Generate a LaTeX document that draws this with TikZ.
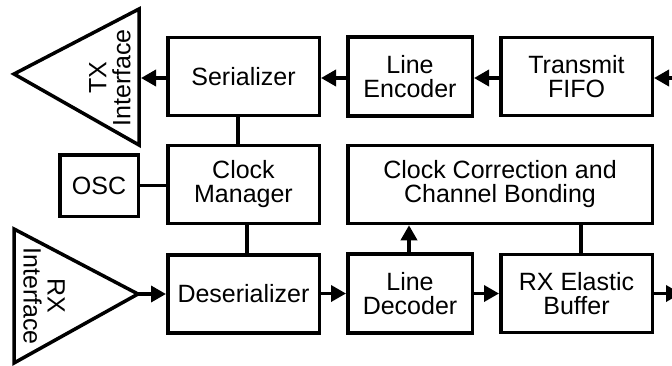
\documentclass[tikz,border=0pt]{standalone}
\usepackage{fontspec}
\setmainfont{Liberation Sans}
\usetikzlibrary{arrows.meta}
\begin{document}
\begin{tikzpicture}[x=1pt,y=-1pt,
  blk/.style={draw,line width=3.5pt,align=center,inner sep=0pt,
    font=\fontsize{25}{24}\selectfont},
  wide/.style={blk,minimum width=151.5pt,minimum height=78pt},
  narrow/.style={blk,minimum width=124.5pt,minimum height=79pt},
  wire/.style={line width=3.5pt},
  arr/.style={wire,-{Triangle[length=15pt,width=16pt]}},
  tri/.style={line width=3.5pt,line join=miter},
  lbl/.style={align=center,inner sep=0pt,font=\fontsize{25}{24}\selectfont}]
  \useasboundingbox (0,0) rectangle (672,365);

  % transmit path
  \node[wide]   (ser)  at (243.5,76.5) {Serializer};
  \node[narrow] (enc)  at (410,76.5)   {Line\\Encoder};
  \node[wide]   (fifo) at (576.5,76.5) {Transmit\\FIFO};

  % clocking
  \node[wide] (clk) at (243.5,184.5) {Clock\\Manager};
  \node[blk,minimum width=78.5pt,minimum height=61.5pt] (osc) at (99,185.5) {OSC};
  \node[blk,minimum width=304.5pt,minimum height=78pt] (cc) at (500,184.5)
    {Clock Correction and\\Channel Bonding};

  % receive path
  \node[wide]   (des) at (243.5,294)   {Deserializer};
  \node[narrow] (dec) at (410,293.5)   {Line\\Decoder};
  \node[wide]   (buf) at (576.5,293.5) {RX Elastic\\Buffer};

  % TX interface triangle (pointing left)
  \coordinate (txtip) at (14,74);
  \coordinate (txtop) at (139,9);
  \coordinate (txbot) at (139,145);
  \coordinate (txin)  at (141,78);
  \draw[tri] (txtip) -- (txtop) -- (txbot) -- cycle;
  \node[lbl,rotate=90] (txlbl) at (110,78) {TX\\Interface};

  % RX interface triangle (pointing right)
  \coordinate (rxtop) at (14,229);
  \coordinate (rxbot) at (14,363);
  \coordinate (rxtip) at (138,294);
  \draw[tri] (rxtop) -- (rxtip) -- (rxbot) -- cycle;
  \node[lbl,rotate=-90] (rxlbl) at (44,296) {RX\\Interface};

  % free ends at the right border
  \coordinate (fifoin) at (672,78);
  \coordinate (bufout) at (681,293.5);

  % transmit data flow
  \draw[arr] (fifoin) -- (fifoin -| fifo.east);
  \draw[arr] (fifo.west |- 0,78) -- (enc.east |- 0,78);
  \draw[arr] (enc.west |- 0,78) -- (ser.east |- 0,78);
  \draw[arr] (ser.west |- txin) -- (txin);

  % receive data flow
  \draw[arr] (rxtip) -- (des.west |- rxtip);
  \draw[arr] (des.east |- 0,293.5) -- (dec.west |- 0,293.5);
  \draw[arr] (dec.east) -- (buf.west);
  \draw[arr] (buf.east) -- (bufout);
  \draw[arr] (dec.north -| 409,0) -- (cc.south -| 409,0);

  % clock and control links
  \draw[wire] (ser.south -| 238,0) -- (clk.north -| 238,0);
  \draw[wire] (clk.south -| 247,0) -- (des.north -| 247,0);
  \draw[wire] (osc.east) -- (clk.west |- osc.east);
  \draw[wire] (buf.north -| 581,0) -- (cc.south -| 581,0);
\end{tikzpicture}
\end{document}
